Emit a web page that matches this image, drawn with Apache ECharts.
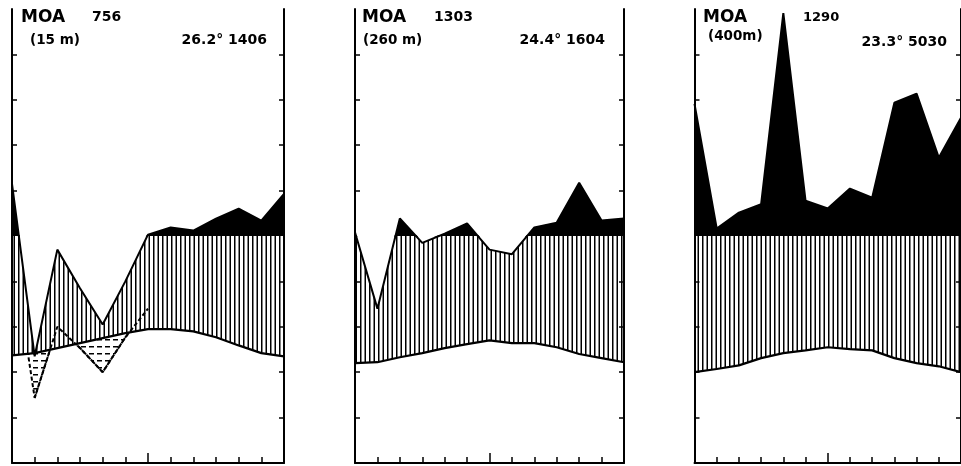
<!DOCTYPE html>
<html><head><meta charset="utf-8">
<script src="https://cdn.jsdelivr.net/npm/echarts@6/dist/echarts.min.js"></script>
<style>html,body{margin:0;padding:0;background:#fff}#c{width:961px;height:466px}</style>
</head><body><div id="c"></div>
<script>
// ---- data ----
const months = ['0','1','2','3','4','5','6','7','8','9','10','11','12'];
// station MOA 756
const temp756 = [23.7,24.2,25.3,26.4,27.5,28.6,29.5,29.5,29.0,27.7,25.9,24.2,23.5];
const prec756 = [330,47,94,77,61,80,106,138,124,176,220,168,286];
// dashed dry-period curve (mm on the 10 °C = 30 mm scale), drawn for the first months only
const dry756 = [142,43,90,76,60,83,102];
// station MOA 1303
const temp1303 = [22.0,22.2,23.3,24.2,25.3,26.2,27.0,26.4,26.4,25.5,24.0,23.1,22.2];
const prec1303 = [116,68,177,97,110,155,94,92,138,159,335,168,177];
// station MOA 1290
const temp1290 = [20.0,20.7,21.5,23.1,24.2,24.8,25.5,25.1,24.8,23.1,22.0,21.3,20.0];
const prec1290 = [682,133,203,240,1082,256,221,309,269,687,727,445,621];
// texts
const names = ['MOA','MOA','MOA'];
const codes = ['756','1303','1290'];
const altitudes = ['(15 m)','(260 m)','(400m)'];
const stats = ['26.2° 1406','24.4° 1604','23.3° 5030'];
// scale ticks (display units: 10 °C = 20 mm; above 100 mm compressed)
const lowTicks = [10,20,30,40];
const highTicks = [60,70,80,90];

// ---- scales ----
const precUnits = p => p == null ? null : (p <= 100 ? p / 2 : 50 + (p - 100) / 20);
const dryUnits = p => p == null ? null : p / 3;

// ---- patterns ----
function hatch() {
  const c = document.createElement('canvas'); c.width = 9; c.height = 4;
  const g = c.getContext('2d'); g.fillStyle = '#fff'; g.fillRect(0,0,9,4);
  g.fillStyle = '#000'; g.fillRect(0,0,1.5,4); g.fillRect(4.5,0,1.5,4);
  return c;
}
function dashes() {
  const c = document.createElement('canvas'); c.width = 8; c.height = 7;
  const g = c.getContext('2d'); g.fillStyle = '#fff'; g.fillRect(0,0,8,7);
  g.fillStyle = '#000'; g.fillRect(1,3,5,1.5);
  return c;
}
const hatchPat = {image: hatch(), repeat: 'repeat'};
const dashPat = {image: dashes(), repeat: 'repeat'};

// ---- layout ----
const TOP = 9, MID = 236, BOTTOM = 463;
const panelLeft = [12, 355, 694.5];
const panelWidth = [272, 269, 269];

const stations = [
  {temp: temp756, prec: prec756, dry: dry756},
  {temp: temp1303, prec: prec1303, dry: null},
  {temp: temp1290, prec: prec1290, dry: null}
];

const grid = [], xAxis = [], yAxis = [], series = [], graphic = [];
const black = '#000';
const base = {type: 'line', symbol: 'none', silent: true, animation: false};

stations.forEach((st, k) => {
  grid.push({left: panelLeft[k], top: TOP, width: panelWidth[k], height: MID - TOP});
  grid.push({left: panelLeft[k], top: MID, width: panelWidth[k], height: BOTTOM - MID});
  const gu = 2*k, gl = 2*k + 1;
  const xu = xAxis.length;
  xAxis.push({type: 'category', data: months, boundaryGap: false, gridIndex: gu, show: false});
  const xl = xAxis.length;
  xAxis.push({type: 'category', data: months, boundaryGap: false, gridIndex: gl, position: 'bottom', z: 20,
    axisLine: {onZero: false, lineStyle: {color: black, width: 2}},
    axisTick: {inside: true, length: 6, interval: 0, lineStyle: {color: black, width: 1.5}},
    axisLabel: {show: false}, splitLine: {show: false}});
  xAxis.push({type: 'category', data: months, boundaryGap: false, gridIndex: gl, position: 'bottom', offset: 0, z: 20,
    axisLine: {show: false, onZero: false},
    axisTick: {inside: true, length: 10, interval: (i) => i === 6, lineStyle: {color: black, width: 1.5}},
    axisLabel: {show: false}, splitLine: {show: false}});
  const yax = (g, min, max, pos, ticks) => ({type: 'value', gridIndex: g, min, max, position: pos, z: 20,
    axisLine: {show: true, onZero: false, lineStyle: {color: black, width: 2}},
    axisTick: {show: true, inside: true, length: 5, customValues: ticks, lineStyle: {color: black, width: 1.5}},
    axisLabel: {show: false}, splitLine: {show: false}});
  const yu = yAxis.length;
  yAxis.push(yax(gu, 50, 100, 'left', highTicks));
  yAxis.push(yax(gu, 50, 100, 'right', highTicks));
  const yl = yAxis.length;
  yAxis.push(yax(gl, 0, 50, 'left', lowTicks));
  yAxis.push(yax(gl, 0, 50, 'right', lowTicks));

  const pU = st.prec.map(precUnits);
  // upper half: precipitation above 100 mm, solid black (fill without stroke so the clip is exact)
  series.push(Object.assign({}, base, {xAxisIndex: xu, yAxisIndex: yu, data: pU, z: 2,
    lineStyle: {width: 0}, areaStyle: {color: black, opacity: 1, origin: 'start'}}));
  series.push(Object.assign({}, base, {xAxisIndex: xu, yAxisIndex: yu, data: pU, z: 3,
    lineStyle: {color: black, width: 2}}));
  // lower half: below temperature
  series.push(Object.assign({}, base, {xAxisIndex: xl, yAxisIndex: yl, data: st.temp, z: 2,
    lineStyle: {width: 0}, areaStyle: {color: st.dry ? dashPat : '#fff', opacity: 1, origin: 'start'}}));
  let dry = null;
  if (st.dry) {
    dry = months.map((m, i) => i < st.dry.length ? dryUnits(st.dry[i]) : null);
    // white below the dry curve; after the dry months the whole lower half is blanked (hatch redrawn above)
    const dryFill = months.map((m, i) => i < st.dry.length ? dryUnits(st.dry[i]) : 50);
    series.push(Object.assign({}, base, {xAxisIndex: xl, yAxisIndex: yl, data: dryFill, z: 3,
      lineStyle: {width: 0}, areaStyle: {color: '#fff', opacity: 1, origin: 'start'}}));
    // dry curve stroke (first segment only visible below the temperature line)
    series.push(Object.assign({}, base, {xAxisIndex: xl, yAxisIndex: yl, data: dry, z: 3.5,
      lineStyle: {color: black, width: 2, type: [4, 2.5]}}));
  }
  // humid period: between temperature and precipitation (hatched)
  series.push(Object.assign({}, base, {xAxisIndex: xl, yAxisIndex: yl, data: st.temp, z: 4,
    stack: 'w' + k, stackStrategy: 'all', lineStyle: {width: 0, opacity: 0}}));
  series.push(Object.assign({}, base, {xAxisIndex: xl, yAxisIndex: yl, z: 4,
    data: pU.map((v, i) => v - st.temp[i]),
    stack: 'w' + k, stackStrategy: 'all', lineStyle: {width: 0, opacity: 0},
    areaStyle: {color: hatchPat, opacity: 1}}));
  // strokes
  series.push(Object.assign({}, base, {xAxisIndex: xl, yAxisIndex: yl, data: pU, z: 6,
    lineStyle: {color: black, width: 2}}));
  series.push(Object.assign({}, base, {xAxisIndex: xl, yAxisIndex: yl, data: st.temp, z: 6,
    lineStyle: {color: black, width: 2.2}}));
  if (dry) {
    series.push(Object.assign({}, base, {xAxisIndex: xl, yAxisIndex: yl, z: 6,
      data: dry.map((v, i) => i === 0 ? null : v),
      lineStyle: {color: black, width: 2, type: [4, 2.5]}}));
  }
});

const txt = (x, y, text, size, align) => ({type: 'text', x, y, z: 100, silent: true,
  style: {text, fill: '#000', font: 'bold ' + size + 'px "DejaVu Sans"', textAlign: align || 'left', textVerticalAlign: 'middle'}});
const nameX = [21, 362, 703], nameY = [17.5, 17.5, 17.5];
const codeX = [92, 434, 803], codeSize = [14, 14, 13];
const altX = [30, 363, 708], altY = [40, 40, 36];
const statX = [267, 605, 947], statY = [40, 40, 42];
for (let k = 0; k < 3; k++) {
  graphic.push(txt(nameX[k], nameY[k], names[k], 17));
  graphic.push(txt(codeX[k], nameY[k], codes[k], codeSize[k]));
  graphic.push(txt(altX[k], altY[k], altitudes[k], 13.5));
  graphic.push(txt(statX[k], statY[k], stats[k], 14, 'right'));
}

const chart = echarts.init(document.getElementById('c'), null, {renderer: 'canvas'});
chart.setOption({animation: false, backgroundColor: '#fff', grid, xAxis, yAxis, series, graphic});
</script></body></html>
